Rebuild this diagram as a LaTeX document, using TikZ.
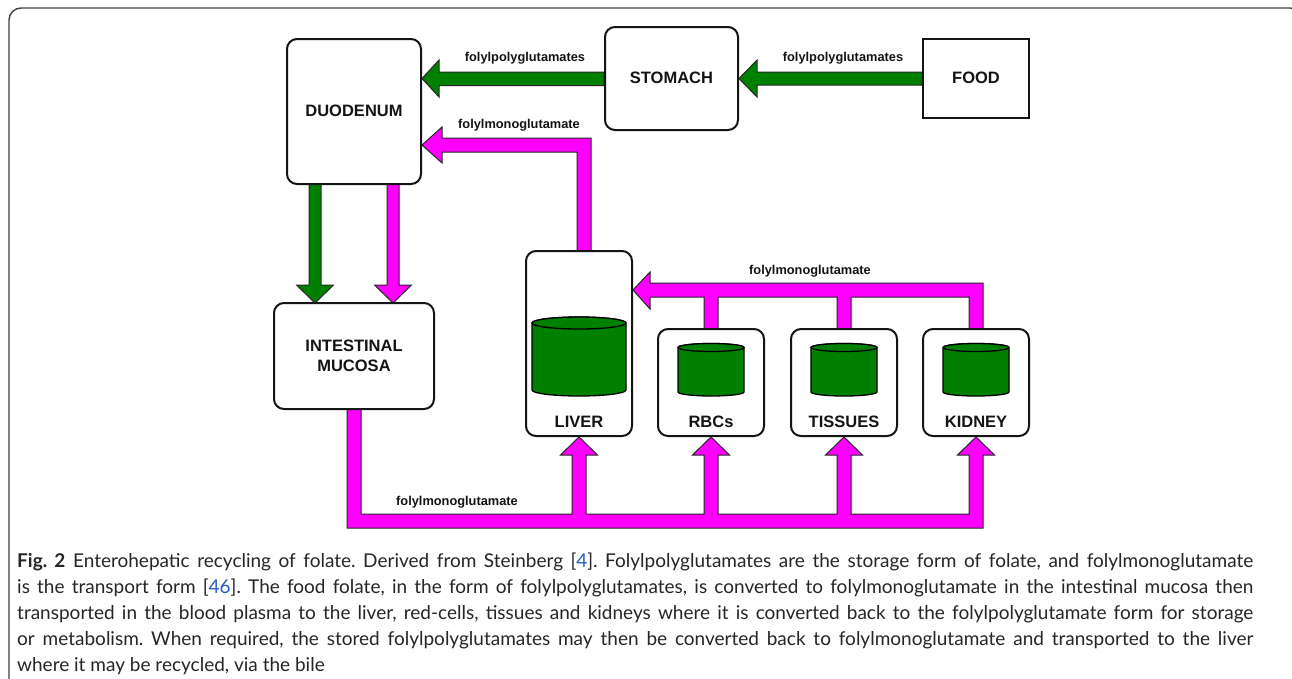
\documentclass[tikz,border=0pt]{standalone}
\usepackage{fontspec}
\setmainfont{Liberation Sans}
\newfontfamily\capfont{Lato}
\usetikzlibrary{calc}
\definecolor{fgreen}{RGB}{0,128,0}
\definecolor{fpink}{RGB}{255,0,255}
\definecolor{linkblue}{RGB}{40,90,200}
\definecolor{ink}{RGB}{20,20,20}
\pgfdeclarelayer{bg}
\pgfsetlayers{bg,main}
\frenchspacing
\newsavebox\capbox
\newcommand\capline[1]{\sbox\capbox{#1}\ifdim\wd\capbox>1236pt\relax\resizebox{1236pt}{\height}{\usebox\capbox}\else\makebox[1236pt][s]{#1}\fi}
\newcommand\drawcyl[5]{%
  \path[cylbody] (#1-#2,#3) -- (#1-#2,#4) arc[start angle=180,end angle=0,x radius=#2,y radius=#5] -- (#1+#2,#3) arc[start angle=0,end angle=-180,x radius=#2,y radius=#5] -- cycle;
  \path[cylbody] (#1,#3) ellipse[x radius=#2,y radius=#5];}
\tikzset{
  box/.style={draw=ink, line width=2pt, rounded corners=10pt, fill=white, inner sep=0pt},
  sqbox/.style={draw=ink, line width=2pt, fill=white, inner sep=0pt},
  blab/.style={font=\fontsize{16.5}{19.5}\selectfont\bfseries, text=ink, inner sep=0pt, align=center},
  alab/.style={font=\fontsize{12.8}{15}\selectfont\bfseries, text=ink, inner sep=0pt},
  garrow/.style={fill=fgreen, draw=black!85, line width=1pt},
  parrow/.style={fill=fpink, draw=black!85, line width=1pt},
  cylbody/.style={fill=fgreen, draw=black, line width=1.3pt},
  capl/.style={anchor=base west, inner sep=0pt, font=\capfont\fontsize{19}{23}\selectfont, text=black!85}
}
\begin{document}
\begin{tikzpicture}[x=1pt,y=-1pt]
\useasboundingbox (0,0) rectangle (1292,678);
\clip (0,0) rectangle (1292,678);
\draw[line width=1.4pt, black!75, rounded corners=12pt] (9,700) -- (9,8) -- (1302,8) -- (1302,700);

% boxes
\node[box, minimum width=134pt, minimum height=145pt] (duo) at (354,111.5) {};
\node[blab] (duoT) at (354,111) {DUODENUM};
\node[box, minimum width=133pt, minimum height=103pt] (sto) at (671.5,78.5) {};
\node[blab] (stoT) at (671.5,78) {STOMACH};
\node[sqbox, minimum width=106pt, minimum height=79pt] (food) at (976,78.5) {};
\node[blab] (foodT) at (976,78) {FOOD};
\node[box, minimum width=160pt, minimum height=106pt] (im) at (354,356) {};
\node[blab] (imT) at (354,356) {INTESTINAL\\MUCOSA};
\node[box, minimum width=106pt, minimum height=185pt] (liver) at (579,343.5) {};
\node[box, minimum width=106pt, minimum height=107pt] (rbc) at (711,382.5) {};
\node[box, minimum width=106pt, minimum height=107pt] (tis) at (844,382.5) {};
\node[box, minimum width=106pt, minimum height=107pt] (kid) at (976,382.5) {};
\node[blab] (liverT) at ($(liver.south)+(0,-15)$) {LIVER};
\node[blab] (rbcT) at ($(rbc.south)+(0,-15)$) {RBCs};
\node[blab] (tisT) at ($(tis.south)+(0,-15)$) {TISSUES};
\node[blab] (kidT) at ($(kid.south)+(0,-15)$) {KIDNEY};

% storage cylinders
\drawcyl{579}{47}{323}{390}{6}
\drawcyl{711}{33}{347.5}{392}{4}
\drawcyl{844}{33}{347.5}{392}{4}
\drawcyl{976}{33}{347.5}{392}{4}

% arrows (behind boxes)
\begin{pgfonlayer}{bg}
\fill[white] (0,0) rectangle (1292,678);
% food -> stomach
\path[garrow] (food.west |- 0,72) -- (757,72) -- (757,60) -- (sto.east |- 0,78.5) -- (757,97) -- (757,85) -- (food.west |- 0,85) -- cycle;
% stomach -> duodenum
\path[garrow] (sto.west |- 0,72) -- (439,72) -- (439,60) -- (duo.east |- 0,78.5) -- (439,97) -- (439,85.5) -- (sto.west |- 0,85.5) -- cycle;
% duodenum -> intestinal mucosa (green)
\path[garrow] (309,184) -- (309,285) -- (296.5,285) -- (315,303) -- (333.5,285) -- (321,285) -- (321,184) -- cycle;
% duodenum -> intestinal mucosa (pink)
\path[parrow] (387,184) -- (387,285) -- (374.5,285) -- (393,303) -- (411.5,285) -- (399,285) -- (399,184) -- cycle;
% liver -> duodenum
\path[parrow] (577,251) -- (577,152) -- (442,152) -- (442,163) -- (duo.east |- 0,145) -- (442,127) -- (442,138) -- (591,138) -- (591,251) -- cycle;
% rbc/tissues/kidney -> liver
\path[parrow] (liver.east |- 0,290) -- (650,272) -- (650,283) -- (983,283) -- (983,329) -- (969,329) -- (969,297) -- (851,297) -- (851,329) -- (837,329) -- (837,297) -- (718,297) -- (718,329) -- (704,329) -- (704,297) -- (650,297) -- (650,309) -- cycle;
% intestinal mucosa -> liver, rbc, tissues, kidney
\path[parrow] (347,409) -- (347,528) -- (983,528) -- (983,455) -- (994.5,455) -- (kid.south) -- (957.5,455) -- (969,455) -- (969,514) -- (851,514) -- (851,455) -- (862.5,455) -- (tis.south) -- (825.5,455) -- (837,455) -- (837,514) -- (718,514) -- (718,455) -- (729.5,455) -- (rbc.south) -- (692.5,455) -- (704,455) -- (704,514) -- (586,514) -- (586,455) -- (597.5,455) -- (liver.south) -- (560.5,455) -- (572,455) -- (572,514) -- (361,514) -- (361,409) -- cycle;
\end{pgfonlayer}

% arrow labels
\node[alab] (lab1) at (525,58) {folylpolyglutamates};
\node[alab] (lab2) at (843,58) {folylpolyglutamates};
\node[alab] (lab3) at (519,125) {folylmonoglutamate};
\node[alab] (lab4) at (810,271) {folylmonoglutamate};
\node[alab] (lab5) at (457,502) {folylmonoglutamate};

% caption
\node[capl] (c1) at (17,567) {\capline{\textbf{Fig. 2} Enterohepatic recycling of folate. Derived from Steinberg [\textcolor{linkblue}{4}]. Folylpolyglutamates are the storage form of folate, and folylmonoglutamate}};
\node[capl] (c2) at (17,593) {\capline{is the transport form [\textcolor{linkblue}{46}]. The food folate, in the form of folylpolyglutamates, is converted to folylmonoglutamate in the intestinal mucosa then}};
\node[capl] (c3) at (17,619) {\capline{transported in the blood plasma to the liver, red-cells, tissues and kidneys where it is converted back to the folylpolyglutamate form for storage}};
\node[capl] (c4) at (17,645) {\capline{or metabolism. When required, the stored folylpolyglutamates may then be converted back to folylmonoglutamate and transported to the liver}};
\node[capl] (c5) at (17,671) {where it may be recycled, via the bile};
\end{tikzpicture}
\end{document}
